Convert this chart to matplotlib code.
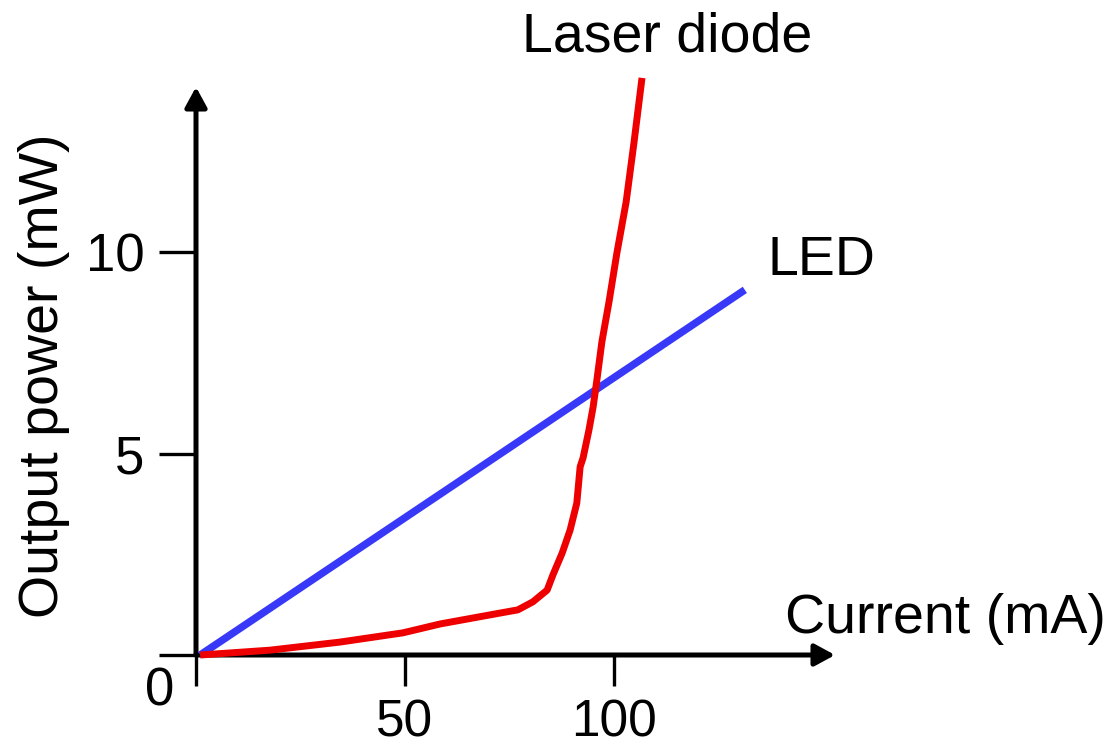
import matplotlib
matplotlib.use("Agg")
import matplotlib.pyplot as plt

plt.rcParams['font.family'] = ['Liberation Sans', 'DejaVu Sans']

# Data (mA, mW)
laser_current = [1.0, 17.7, 34.4, 49.5, 58.4, 72.7, 77.0, 80.6, 84.0, 85.4, 87.6, 89.5,
                 91.1, 91.9, 92.6, 94.0, 95.0, 95.9, 97.1, 98.8, 100.7, 102.9, 104.8, 106.7]
laser_power = [0.0, 0.12, 0.32, 0.55, 0.77, 1.04, 1.12, 1.32, 1.61, 1.99, 2.53, 3.10,
               3.77, 4.67, 4.89, 5.58, 6.15, 6.82, 7.77, 8.76, 9.98, 11.24, 12.73, 14.32]
led_current = [1.0, 131.3]
led_power = [0.0, 9.06]

x_ticks = [0, 50, 100]
x_ticklabels = ['', '50', '100']
y_ticks = [0, 5, 10]
y_ticklabels = ['', '5', '10']

W, H = 1111, 751
fig = plt.figure(figsize=(W / 100, H / 100), dpi=100)

def fx(px):
    return px / W

def fy(py):
    return 1 - py / H

left_px, right_px, top_px, bottom_px = 196, 835, 87, 655
ax = fig.add_axes([fx(left_px), fy(bottom_px), (right_px - left_px) / W, (bottom_px - top_px) / H])
ax.set_xlim(0, (right_px - left_px) / 4.18)
ax.set_ylim(0, (bottom_px - top_px) / 40.3)

for s in ax.spines.values():
    s.set_visible(False)

red = '#EE0000'
blue = '#3838F8'
ax.plot(led_current, led_power, color=blue, lw=5.4, solid_capstyle='butt', clip_on=False, zorder=3)
ax.plot(laser_current, laser_power, color=red, lw=5.0, solid_capstyle='butt', clip_on=False, zorder=4)

# axes with arrows
arrow_kw = dict(arrowstyle='-|>,head_length=0.55,head_width=0.3', lw=3.6, color='black',
                shrinkA=0, shrinkB=0, mutation_scale=22)
ax.annotate('', xy=(1, 0), xycoords='axes fraction', xytext=(0, 0),
            textcoords='axes fraction', arrowprops=arrow_kw, zorder=2)
ax.annotate('', xy=(0, 1), xycoords='axes fraction', xytext=(0, 0),
            textcoords='axes fraction', arrowprops=arrow_kw, zorder=2)

ax.set_xticks(x_ticks)
ax.set_xticklabels(x_ticklabels)
ax.set_yticks(y_ticks)
ax.set_yticklabels(y_ticklabels)
ax.tick_params(axis='x', direction='out', length=22, width=2.4, pad=9, labelsize=37)
ax.tick_params(axis='y', direction='out', length=27, width=2.4, pad=10, labelsize=38)

fs = 40
fig.text(fx(160), fy(692), '0', fontsize=38, ha='center', va='center')
fig.text(fx(667), fy(52), 'Laser diode', fontsize=fs, ha='center', va='baseline')
fig.text(fx(768), fy(275), 'LED', fontsize=fs, ha='left', va='baseline')
fig.text(fx(785), fy(633), 'Current (mA)', fontsize=fs, ha='left', va='baseline')
fig.text(fx(44), fy(376), 'Output power (mW)', fontsize=fs, ha='center', va='center', rotation=90)

fig.savefig('out.png', dpi=100)
